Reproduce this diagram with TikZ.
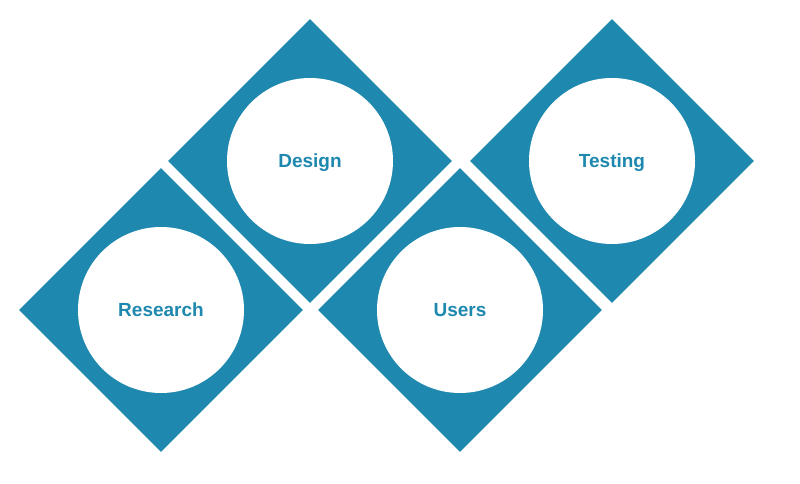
\documentclass[tikz,border=0pt]{standalone}
\usepackage{fontspec}
\setmainfont{Liberation Sans}
\usetikzlibrary{positioning}

\definecolor{tileblue}{HTML}{1E88AF}

\begin{document}
\begin{tikzpicture}[x=1pt, y=-1pt,
      tile/.style={fill=tileblue, rotate=45, minimum size=200.8pt, inner sep=0pt},
      disc/.style={circle, fill=white, minimum size=166pt, inner sep=0pt, text depth=0pt,
                   font=\fontsize{19}{22}\selectfont\bfseries, text=tileblue}]

    \useasboundingbox (0,0) rectangle (800,484);

    % ---- Diamond tiles ----
    \node[tile] (tResearch) at (161, 310) {};
    \node[tile] (tDesign)   at (310, 161) {};
    \node[tile] (tUsers)    at (460, 310) {};
    \node[tile] (tTesting)  at (612, 161) {};

    % ---- Circles with labels ----
    \node[disc] (research) at (tResearch) {Research};
    \node[disc] (design)   at (tDesign)   {Design};
    \node[disc] (users)    at (tUsers)    {Users};
    \node[disc] (testing)  at (tTesting)  {Testing};

\end{tikzpicture}
\end{document}
